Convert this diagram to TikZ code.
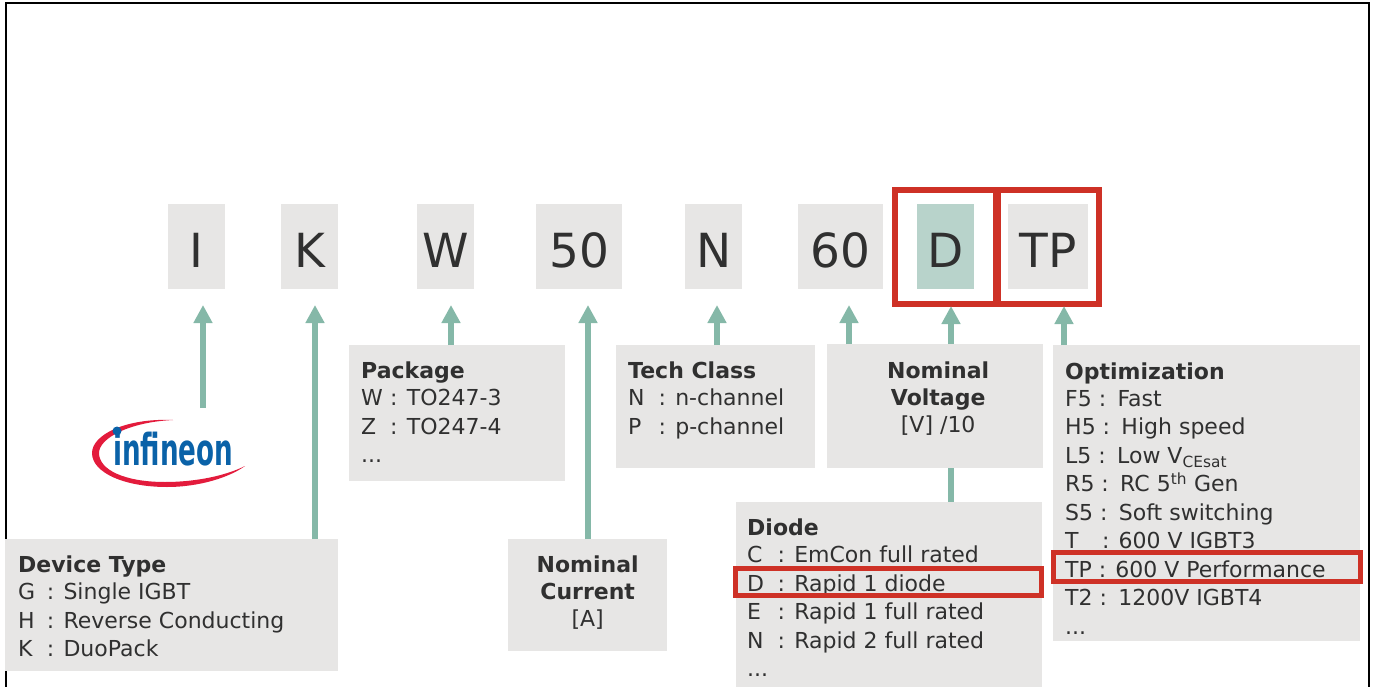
\documentclass[tikz,border=0pt]{standalone}
\usepackage{fontspec}
\setmainfont{DejaVu Sans}
\usetikzlibrary{arrows.meta,positioning,calc}

\definecolor{boxgrey}{HTML}{E7E6E5}
\definecolor{arrowgreen}{HTML}{85B8A8}
\definecolor{markgreen}{HTML}{B8D3CB}
\definecolor{markred}{HTML}{CE3126}
\definecolor{inktext}{HTML}{303030}
\definecolor{logored}{HTML}{E31B3C}
\definecolor{logoblue}{HTML}{0A62A8}

\newcommand{\code}[2][1.38em]{\makebox[#1][l]{#2}: }
\newcommand{\optcode}[1]{#1 : \hspace{2pt}}
\tikzset{
  greybox/.style={fill=boxgrey, inner sep=0, anchor=north west},
  codebox/.style={greybox, minimum height=85},
  listtext/.style={inner sep=0, anchor=north west, align=left, text=inktext,
    font=\fontsize{22}{28.5}\selectfont},
  headtext/.style={inner sep=0, anchor=north, align=center, text=inktext,
    font=\fontsize{22}{27}\selectfont},
  bigtext/.style={text=inktext, yshift=-4pt, font=\fontsize{47}{47}\selectfont},
  upline/.style={draw=arrowgreen, line width=6},
  uparrow/.style={upline, -{Triangle[width=18,length=18]}},
  redframe/.style={draw=markred, line width=6, inner sep=0, outer sep=0, anchor=north west},
  redrow/.style={draw=markred, line width=5, inner sep=0, outer sep=0, anchor=north west},
}

\begin{document}
\begin{tikzpicture}[x=1pt, y=-1pt]
\useasboundingbox (0,0) rectangle (1375,687);
\draw[line width=2] (6,687) -- (6,3) -- (1369,3) -- (1369,687);

% the code letters
\foreach \name/\x/\w in {codeI/168/57, codeK/281/57, codeW/417/57, codeC/536/86,
  codeN/685/57, codeV/798/85, codeT/1008/80}
  \node[codebox, minimum width=\w] (\name) at (\x,204) {};
\foreach \name/\txt in {codeI/I, codeK/K, codeW/W, codeC/50, codeN/N, codeV/60, codeT/TP}
  \node[bigtext] at (\name) {\txt};
\node[codebox, minimum width=57, fill=markgreen] (codeD) at (917,204) {};
\node[bigtext] at (codeD) {D};

% the boxes
\node[greybox, minimum width=333, minimum height=132] (device) at (5,539) {};
\node[greybox, minimum width=216, minimum height=136] (package) at (349,345) {};
\node[greybox, minimum width=159, minimum height=112] (current) at (508,539) {};
\node[greybox, minimum width=199, minimum height=123] (tech) at (616,345) {};
\node[greybox, minimum width=216, minimum height=124] (voltage) at (827,344) {};
\node[greybox, minimum width=306, minimum height=185] (diode) at (736,502) {};
\node[greybox, minimum width=307, minimum height=296] (optim) at (1053,345) {};

\node[listtext] (devicetext) at ($(device.north west)+(13,17)$)
  {\textbf{Device Type}\\[-1.5pt] \code[1.3em]{G}Single IGBT\\ \code[1.3em]{H}Reverse Conducting\\ \code[1.3em]{K}DuoPack};
\node[listtext] (packagetext) at ($(package.north west)+(12,17)$)
  {\textbf{Package}\\[-1.5pt] \code[1.32em]{W}TO247-3\\ \code[1.32em]{Z}TO247-4\\ ...};
\node[headtext] (currenttext) at ($(current.north)+(0,17)$)
  {\textbf{Nominal}\\ \textbf{Current}\\ {[A]}};
\node[listtext] (techtext) at ($(tech.north west)+(12,17)$)
  {\textbf{Tech Class}\\[-1.5pt] \code{N}n-channel\\ \code{P}p-channel};
\node[headtext] (voltagetext) at ($(voltage.north)+(3,18)$)
  {\textbf{Nominal}\\ \textbf{Voltage}\\ {[V] /10}};
\node[listtext] (diodetext) at ($(diode.north west)+(11,17)$)
  {\textbf{Diode}\\[-1.5pt] \code{C}EmCon full rated\\ \code{D}Rapid 1 diode\\ \code{E}Rapid 1 full rated\\ \code{N}Rapid 2 full rated\\ ...};
\node[listtext] (optimtext) at ($(optim.north west)+(12,18)$)
  {\textbf{Optimization}\\[-2pt] \optcode{F5}Fast\\ \optcode{H5}High speed\\ \optcode{L5}Low V\textsubscript{CEsat}\\ \optcode{R5}RC 5\textsuperscript{th} Gen\\
   \optcode{S5}Soft switching\\ \optcode{T\hspace{0.75em}}600 V IGBT3\\ \optcode{TP}600 V Performance\\ \optcode{T2}1200V IGBT4\\ ...};

% red marks
\node[redframe, minimum width=103, minimum height=114] (frameD) at (895,190) {};
\node[redframe, minimum width=103, minimum height=114] (frameT) at (996,190) {};
\node[redrow, minimum width=306, minimum height=27] (rowD) at (735.5,568.5) {};
\node[redrow, minimum width=307, minimum height=29] (rowT) at (1053.5,552.5) {};

% arrows
\coordinate (tipI) at (203,305);
\coordinate (tailI) at (203,408);
\coordinate (tipK) at (315,305);
\coordinate (tipW) at (451,305);
\coordinate (tipC) at (588,305);
\coordinate (tipN) at (717,305);
\coordinate (tipV) at (849,305);
\coordinate (tipD) at (951,306);
\coordinate (tipT) at (1064,306);
\draw[uparrow] (tailI) -- (tipI);
\foreach \from/\to in {device/tipK, package/tipW, current/tipC, tech/tipN, voltage/tipV, voltage/tipD, optim/tipT}
  \draw[uparrow] (\from.north -| \to) -- (\to);
\draw[upline] (voltage.south -| tipD) -- (diode.north -| tipD);

% logo
\fill[logored] (173,420) .. controls (125,418) and (92,435) .. (92,453)
  .. controls (92,473) and (125,487) .. (167,487) .. controls (200,487) and (230,477) .. (245,466)
  .. controls (225,476) and (195,482) .. (165,482) .. controls (125,482) and (99,470) .. (99,453)
  .. controls (99,438) and (130,422) .. (173,420) -- cycle;
\node[text=logoblue, inner sep=0, anchor=base west, xscale=0.595, font=\fontsize{44}{44}\selectfont\bfseries] (logo) at (113,465) {infineon};
\fill[logoblue] (117,431) circle (4.5);
\end{tikzpicture}
\end{document}
